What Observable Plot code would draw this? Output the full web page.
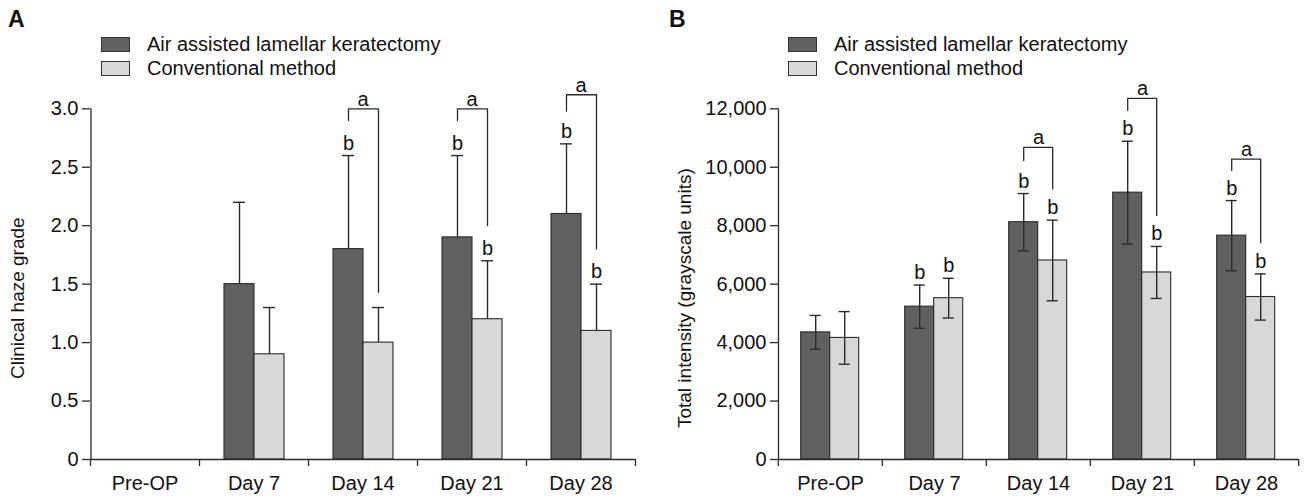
<!DOCTYPE html>
<html><head><meta charset="utf-8">
<script src="https://cdn.jsdelivr.net/npm/d3@7"></script>
<script src="https://cdn.jsdelivr.net/npm/@observablehq/plot@0.6"></script>
<style>
body{margin:0;background:#fff;font-family:"Liberation Sans",Arial,Helvetica,sans-serif;color:#111;}
#wrap{display:flex;width:1306px;height:500px;}
.panel{position:relative;width:653px;height:500px;}
.letter{position:absolute;top:6px;font-weight:bold;font-size:23px;z-index:2;}
.legend{position:absolute;top:33px;z-index:2;}
.row{display:flex;align-items:center;height:23.5px;font-size:20px;}
.sw{width:29px;height:15px;border:1.2px solid #333;margin-right:17px;box-sizing:border-box;}
</style></head><body>
<div id="wrap"><div class="panel" id="pa"></div><div class="panel" id="pb"></div></div>
<script>
const days = ["Pre-OP", "Day 7", "Day 14", "Day 21", "Day 28"];
const groups = ["Air assisted lamellar keratectomy", "Conventional method"];
const groupColors = ["#606060", "#d8d8d8"];

// Panel A: clinical haze grade (mean + SD, upper error only); Pre-OP grade is 0
const hazeAir = [0, 1.5, 1.8, 1.9, 2.1];
const hazeAirSD = [0, 0.7, 0.8, 0.7, 0.6];
const hazeConv = [0, 0.9, 1.0, 1.2, 1.1];
const hazeConvSD = [0, 0.4, 0.3, 0.5, 0.4];
const hazeTicks = [0, 0.5, 1, 1.5, 2, 2.5, 3];
const hazeSigAir = ["Day 14", "Day 21", "Day 28"];
const hazeSigConv = ["Day 21", "Day 28"];
const hazeBracketDays = ["Day 14", "Day 21", "Day 28"];
const hazeBracketTop = [3.0, 3.0, 3.12];
const hazeBracketLeft = [2.9, 2.9, 2.98];
const hazeBracketRight = [1.43, 2.0, 1.8];

// Panel B: total intensity (mean ± SD)
const intAir = [4350, 5230, 8120, 9130, 7660];
const intAirSD = [580, 740, 980, 1760, 1200];
const intConv = [4160, 5520, 6810, 6400, 5560];
const intConvSD = [900, 680, 1380, 890, 790];
const intTicks = [0, 2000, 4000, 6000, 8000, 10000, 12000];
const intSigAir = ["Day 7", "Day 14", "Day 21", "Day 28"];
const intSigConv = ["Day 7", "Day 14", "Day 21", "Day 28"];
const intBracketDays = ["Day 14", "Day 21", "Day 28"];
const intBracketTop = [10680, 12360, 10280];
const intBracketLeft = [10230, 11950, 9890];
const intBracketRight = [9260, 8350, 7420];

const FONT = '"Liberation Sans",Arial,Helvetica,sans-serif';

function buildPanel(cfg) {
  const rows = [];
  days.forEach((day, i) => {
    [[cfg.air, cfg.airSD], [cfg.conv, cfg.convSD]].forEach(([v, sd], g) => {
      rows.push({day, group: groups[g], value: v[i], low: cfg.twoSided ? v[i] - sd[i] : v[i], high: v[i] + sd[i]});
    });
  });
  const shown = rows.filter(r => r.value > 0);
  const sig = rows.filter(r => (r.group === groups[0] ? cfg.sigAir : cfg.sigConv).includes(r.day));
  const brackets = cfg.bDays.map((day, i) => ({day, top: cfg.bTop[i]}));
  const bracketPts = cfg.bDays.flatMap((day, i) => [
    {day, group: groups[0], y: cfg.bLeft[i]},
    {day, group: groups[0], y: cfg.bTop[i]},
    {day, group: groups[1], y: cfg.bTop[i]},
    {day, group: groups[1], y: cfg.bRight[i]}
  ]);
  const width = 653, ml = cfg.marginLeft, mr = cfg.marginRight;
  const bw = (width - ml - mr) / days.length;
  const po = (bw - 60) / 60;
  const ink = "#2a2a2a";
  const yMax = cfg.domain[1];
  const marks = [
    Plot.barY(shown, {fx: "day", x: "group", y: "value", fill: "group", stroke: ink, strokeWidth: 1.1}),
    Plot.ruleX(rows, {fx: "day", x: "group", y1: "low", y2: "high", stroke: ink, strokeWidth: 1.4}),
    Plot.tickY(shown, {fx: "day", x: "group", y: "high", insetLeft: 9, insetRight: 9, stroke: ink, strokeWidth: 1.4}),
    ...(cfg.twoSided ? [Plot.tickY(shown, {fx: "day", x: "group", y: "low", insetLeft: 9, insetRight: 9, stroke: ink, strokeWidth: 1.4})] : []),
    Plot.text(sig, {fx: "day", x: "group", y: "high", text: () => "b", dy: -6, lineAnchor: "bottom", fontSize: 20, fill: "#111"}),
    Plot.line(bracketPts, {fx: "day", x: "group", y: "y", z: "day", stroke: ink, strokeWidth: 1.3}),
    Plot.text(brackets, {fx: "day", y: "top", text: () => "a", dy: -3, lineAnchor: "bottom", fontSize: 20, fill: "#111"}),
    Plot.ruleY([0], {stroke: ink, strokeWidth: 1.3}),
    // y axis line at the left edge of the first facet
    Plot.ruleX([{day: days[0], group: groups[0]}], {fx: "day", x: "group", y1: 0, y2: yMax, dx: -(bw / 2 - 15), stroke: ink, strokeWidth: 1.3}),
    Plot.axisY({ticks: cfg.ticks, tickFormat: cfg.tickFormat, tickSize: 8, tickPadding: 4, stroke: ink, strokeWidth: 1.3,
      label: null, fontSize: 20, fill: "#111"}),
    Plot.text([cfg.label], {fx: () => days[0], frameAnchor: "left", text: d => d, rotate: -90, textAnchor: "middle",
      dx: cfg.labelDx, dy: 14, fontSize: 19, fill: "#111"}),
    Plot.axisFx({anchor: "bottom", tickSize: 0, tickPadding: 16, label: null, fontSize: 20, fill: "#111"}),
    Plot.axisFx({anchor: "bottom", tickSize: 7, tickFormat: () => "", label: null, dx: -bw / 2, stroke: ink, strokeWidth: 1.3}),
    Plot.axisFx({anchor: "bottom", ticks: [days[days.length - 1]], tickSize: 7, tickFormat: () => "", label: null, dx: bw / 2, stroke: ink, strokeWidth: 1.3})
  ];
  const chart = Plot.plot({
    width, height: 450,
    marginLeft: ml, marginRight: mr, marginTop: 58.3, marginBottom: 41,
    style: {fontFamily: FONT, fontSize: "20px", background: "transparent", color: "#111", overflow: "visible"},
    fx: {domain: days, padding: 0},
    x: {domain: groups, paddingInner: 0, paddingOuter: po, axis: null},
    y: {domain: cfg.domain},
    color: {domain: groups, range: groupColors},
    marks
  });
  const el = document.getElementById(cfg.id);
  const letter = document.createElement("div");
  letter.className = "letter"; letter.style.left = cfg.letterLeft + "px"; letter.textContent = cfg.letter;
  el.appendChild(letter);
  const legend = document.createElement("div");
  legend.className = "legend"; legend.style.left = cfg.legendLeft + "px";
  groups.forEach((g, i) => {
    const row = document.createElement("div"); row.className = "row";
    const sw = document.createElement("div"); sw.className = "sw"; sw.style.background = groupColors[i];
    const t = document.createElement("span"); t.textContent = g;
    row.appendChild(sw); row.appendChild(t); legend.appendChild(row);
  });
  el.appendChild(legend);
  chart.style.position = "absolute"; chart.style.left = "0px"; chart.style.top = "50px";
  el.appendChild(chart);
}

buildPanel({id: "pa", letter: "A", letterLeft: 8, legendLeft: 101,
  air: hazeAir, airSD: hazeAirSD, conv: hazeConv, convSD: hazeConvSD, twoSided: false,
  domain: [0, 3], ticks: hazeTicks, tickFormat: d => d === 0 ? "0" : d.toFixed(1),
  label: "Clinical haze grade", labelDx: -73, marginLeft: 90, marginRight: 18,
  sigAir: hazeSigAir, sigConv: hazeSigConv,
  bDays: hazeBracketDays, bTop: hazeBracketTop, bLeft: hazeBracketLeft, bRight: hazeBracketRight});

buildPanel({id: "pb", letter: "B", letterLeft: 16, legendLeft: 135,
  air: intAir, airSD: intAirSD, conv: intConv, convSD: intConvSD, twoSided: true,
  domain: [0, 12000], ticks: intTicks, tickFormat: d3.format(","),
  label: "Total intensity (grayscale units)", labelDx: -94, marginLeft: 124.3, marginRight: 6.7,
  sigAir: intSigAir, sigConv: intSigConv,
  bDays: intBracketDays, bTop: intBracketTop, bLeft: intBracketLeft, bRight: intBracketRight});
</script>
</body></html>
